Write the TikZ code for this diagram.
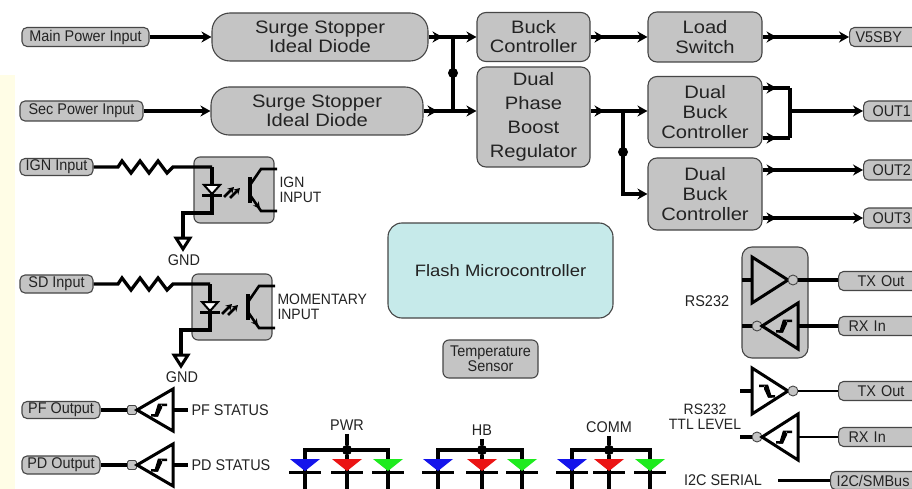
\documentclass[tikz,border=0pt]{standalone}
\usepackage{fontspec}
\setmainfont{Liberation Sans}
\newfontfamily\bigf[FakeStretch=1.12]{Liberation Sans}
\newfontfamily\smf[FakeStretch=0.93]{Liberation Sans}
\usetikzlibrary{arrows.meta,decorations.markings}
\definecolor{boxgray}{RGB}{196,196,196}
\definecolor{edge}{RGB}{70,70,70}
\definecolor{cyanbox}{RGB}{198,234,234}
\definecolor{strip}{RGB}{255,253,230}
\definecolor{txt}{RGB}{35,35,35}
\definecolor{ledblue}{RGB}{20,20,235}
\definecolor{ledred}{RGB}{235,20,20}
\definecolor{ledgreen}{RGB}{30,235,30}
\tikzset{
  bigtext/.style={font=\bigf\fontsize{18}{19}\selectfont, text=txt},
  smtext/.style={font=\smf\fontsize{15.5}{15}\selectfont, text=txt},
  lbl2/.style={font=\smf\fontsize{15}{14.5}\selectfont, text=txt},
  blk/.style={draw=edge, fill=boxgray, line width=1.1pt, rounded corners=9pt, align=center, inner sep=0pt, bigtext},
  pill/.style={draw=edge, fill=boxgray, line width=1.1pt, rounded corners=5pt, inner ysep=0pt, inner xsep=0pt, smtext},
  rpill/.style={pill, anchor=west, text width=90pt, align=left},
  tip/.tip={Stealth[length=10pt,width=11pt]},
  flow/.style={line width=3.3pt, -tip},
  flowm/.style={flow, postaction=decorate, decoration={markings, mark=at position 14pt with {\arrow{tip}}}},
  wire/.style={line width=3.3pt},
  thinwire/.style={line width=2.4pt},
  mwire/.style={wire, postaction=decorate, decoration={markings, mark=at position 14pt with {\arrow{tip}}}},
  jdot/.style={circle, fill=black, inner sep=0pt, minimum size=10pt},
  bub/.style={circle, draw=edge, fill=boxgray, line width=0.9pt, minimum size=10pt, inner sep=0pt},
  bubsq/.style={rectangle, rounded corners=1.5pt, draw=edge, fill=boxgray, line width=0.9pt, minimum size=9pt, inner sep=0pt},
  tri/.style={line width=3pt, line join=miter, fill=white},
}
\newcommand\hyst[2][1]{\begin{scope}[shift={#2}, xscale=#1]
\fill (-8,6.5) -- (-1,6.5) -- (3,-2) -- (3,-6.5) -- (8,-6.5) -- (8,-4) -- (1,-4) -- (-3,4) -- (-8,4) -- cycle;
\fill (-5,6.5) -- (-1,6.5) -- (3,-6.5) -- (-1,-6.5) -- cycle;
\end{scope}}
\newcommand\optocore[3]{\begin{scope}[shift={#2}]
\node[blk, rounded corners=6pt, minimum width=80pt, minimum height=66pt] (opto#1) at (234,190) {};
\coordinate (led#1) at (212,167);
\coordinate (gt#1) at (183,238);
\draw[wire, line join=miter] (led#1) -- (212,213) -- (183,213) -- (gt#1);
\draw[line width=3pt, fill=white, line join=miter] (gt#1) ++(-7,0) -- ++(14,0) -- ++(-7,11) -- cycle;
\node[smtext, anchor=north] (gndt#1) at (184,251) {GND};
\draw[line width=2pt, fill=white] (204,185) -- (220,185) -- (212,194) -- cycle;
\draw[line width=3pt] (202,195) -- (222,195);
\draw[line width=2.6pt, -{Stealth[length=6pt,width=7pt]}] (224,197) -- (234,187);
\draw[line width=2.6pt, -{Stealth[length=6pt,width=7pt]}] (230,198) -- (240,188);
\draw[line width=3.5pt] (250,177) -- (250,203);
\draw[line width=2.6pt] (250,185) -- (261,169) -- (277,169);
\draw[line width=2.6pt] (250,195) -- (261,211) -- (277,211);
\draw[line width=1.2pt, -{Stealth[length=7pt,width=7pt]}] (252,198) -- (260,209);
\node[lbl2, anchor=west, align=left] (optol#1) at (276,190) {#3};
\end{scope}}
\newcommand\ledsym[2]{%
\fill[#2] (#1-15,459) -- (#1+15,459) -- (#1,471) -- cycle;
\draw[line width=3.2pt] (#1-16,472.5) -- (#1+16,472.5);}
\newcommand\ledgroup[6]{%
\node[smtext] (#1) at (#5,#3) {#2};
\node[jdot] (#1d) at (#5,450) {};
\draw[wire, line join=miter] (#4,489) -- (#4,450) -- (#6,450) -- (#6,489);
\draw[wire] (#1d) -- (#5,489);
\draw[wire] (#1) -- (#1d);
\node[jdot] at (#5,450) {};
\ledsym{#4}{ledblue}\ledsym{#5}{ledred}\ledsym{#6}{ledgreen}}
\begin{document}
\begin{tikzpicture}[x=1pt,y=-1pt]
\clip (0,0) rectangle (912,489);
\fill[white] (0,0) rectangle (912,489);
\fill[strip] (0,75) rectangle (15,489);

% power path
\node[blk, rounded corners=18pt, minimum width=216pt, minimum height=48pt] (surge1) at (320,37) {Surge Stopper\\Ideal Diode};
\node[blk, rounded corners=18pt, minimum width=212pt, minimum height=48pt] (surge2) at (317,111) {Surge Stopper\\Ideal Diode};
\node[pill, minimum width=127pt, minimum height=19pt] (main) at (85.5,37) {Main Power Input};
\node[pill, minimum width=123pt, minimum height=20pt] (sec) at (81.5,111) {Sec Power Input};
\node[blk, minimum width=113pt, minimum height=49pt] (buck) at (533.5,37) {Buck\\Controller};
\node[blk, minimum width=113pt, minimum height=100pt] (boost) at (533.5,117) {Dual\\[5pt]Phase\\[5pt]Boost\\[5pt]Regulator};
\node[blk, minimum width=114pt, minimum height=50pt] (load) at (705,37) {Load\\[1pt]Switch};
\node[blk, minimum width=114pt, minimum height=71pt] (dbuck1) at (705,112) {Dual\\[1pt]Buck\\[1pt]Controller};
\node[blk, minimum width=114pt, minimum height=72pt] (dbuck2) at (705,194) {Dual\\[1pt]Buck\\[1pt]Controller};
\node[rpill, inner xsep=6pt, minimum height=19pt] (v5) at (849,37) {V5SBY};
\node[rpill, inner xsep=9pt, minimum height=20pt] (out1) at (863,111) {OUT1};
\node[rpill, inner xsep=9pt, minimum height=20pt] (out2) at (863,170) {OUT2};
\node[rpill, inner xsep=9pt, minimum height=20pt] (out3) at (863,218) {OUT3};

\draw[flow] (main) -- (surge1);
\draw[flow] (sec) -- (surge2);
\draw[flowm] (surge1) -- (buck);
\draw[flowm] (surge2) -- (surge2 -| boost.west);
\coordinate (bus1) at (453,37);
\coordinate (bus2) at (453,111);
\draw[wire] (bus1) -- (bus2);
\node[jdot] (j1) at (453,73) {};
\draw[flowm] (buck) -- (load);
\draw[flowm] (load) -- (v5.west);
\draw[flowm] (boost.east |- surge2) -- (dbuck1.west |- surge2);
\coordinate (br) at (623,111);
\draw[flow, line join=miter] (br) -- (br |- dbuck2) -- (dbuck2.west);
\node[jdot] (j2) at (623,152) {};
\coordinate (d1a) at (790,88);
\coordinate (d1b) at (790,138);
\draw[mwire] (d1a -| dbuck1.east) -- (d1a);
\draw[mwire] (d1b -| dbuck1.east) -- (d1b);
\draw[wire] (d1a) -- (d1b);
\draw[flow] (d1a |- out1) -- (out1.west);
\draw[flowm] (dbuck2.east |- out2) -- (out2.west);
\draw[flowm] (dbuck2.east |- out3) -- (out3.west);

% opto inputs
\node[pill, minimum width=73pt, minimum height=17pt] (ign) at (56.5,167) {IGN Input};
\node[pill, minimum width=73pt, minimum height=18pt] (sd) at (56.5,284) {SD Input};
\optocore{1}{(0,0)}{IGN\\INPUT}
\optocore{2}{(-2,117)}{MOMENTARY\\INPUT}
\draw[wire, line join=miter] (ign.east) -- (118,167) -- ++(4,-6) -- ++(9,12) -- ++(9,-12) -- ++(9,12) -- ++(9,-12) -- ++(9,12) -- (173,167) -- (led1);
\draw[wire, line join=miter] (sd.east) -- (118,284) -- ++(4,-6) -- ++(9,12) -- ++(9,-12) -- ++(9,12) -- ++(9,-12) -- ++(9,12) -- (173,284) -- (led2);

% micro
\node[blk, fill=cyanbox, rounded corners=14pt, minimum width=225pt, minimum height=95pt, font=\bigf\fontsize{16.5}{18}\selectfont] (mcu) at (500.5,270.5) {Flash Microcontroller};
\node[blk, rounded corners=6pt, minimum width=95pt, minimum height=38pt, smtext, font=\smf\fontsize{15.5}{14}\selectfont] (temp) at (490.5,359) {Temperature\\Sensor};

% status outputs
\node[pill, minimum width=78pt, minimum height=17pt] (pf) at (61,410) {PF Output};
\node[bubsq] (pfb) at (132,410) {};
\draw[wire] (pf) -- (pfb);
\draw[tri] (137,410) -- (173,389) -- (173,431) -- cycle;
\hyst{(159,410)}
\coordinate (pfo) at (173,410);
\node[smtext, anchor=west] (pfs) at (188,410) {PF STATUS};
\draw[wire] (pfo) -- (pfs.west);

\node[pill, minimum width=78pt, minimum height=18pt] (pd) at (61,465) {PD Output};
\node[bubsq] (pdb) at (132,465) {};
\draw[wire] (pd) -- (pdb);
\draw[tri] (137,465) -- (173,444) -- (173,486) -- cycle;
\hyst{(159,465)}
\coordinate (pdo) at (173,465);
\node[smtext, anchor=west] (pds) at (188,465) {PD STATUS};
\draw[wire] (pdo) -- (pds.west);

% LEDs
\ledgroup{pwr}{PWR}{425}{305}{347}{388}
\ledgroup{hb}{HB}{430}{438}{482}{522}
\ledgroup{comm}{COMM}{427}{572}{609}{650}

% RS232
\node[blk, rounded corners=10pt, minimum width=66pt, minimum height=111pt] (rsbox) at (775,302.5) {};
\node[smtext] (rsl) at (707,301) {RS232};
\node[rpill, inner xsep=19pt, minimum height=19pt] (tx1) at (838,281) {TX Out};
\node[rpill, inner xsep=10pt, minimum height=19pt] (rx1) at (838,326) {RX In};
\coordinate (tx1in) at (742,280);
\coordinate (tx1t) at (752,280);
\draw[wire] (tx1in) -- (tx1t);
\draw[tri, fill=boxgray] (752,257) -- (788,280) -- (752,303) -- cycle;
\node[bub] (tx1b) at (793,280) {};
\draw[wire] (tx1b) -- (tx1b -| tx1.west);
\coordinate (rx1in) at (742,326);
\node[bub] (rx1b) at (757,326) {};
\draw[wire] (rx1in) -- (rx1b);
\draw[tri, fill=boxgray] (762,326) -- (798,303) -- (798,349) -- cycle;
\hyst{(784,326)}
\coordinate (rx1o) at (798,326);
\draw[wire] (rx1o) -- (rx1.west);

% RS232 TTL
\node[lbl2, align=center] (ttll) at (705,417) {RS232\\TTL LEVEL};
\node[rpill, inner xsep=19pt, minimum height=19pt] (tx2) at (838,391) {TX Out};
\node[rpill, inner xsep=10pt, minimum height=19pt] (rx2) at (838,437) {RX In};
\coordinate (tx2in) at (740,391);
\coordinate (tx2t) at (752,391);
\draw[wire] (tx2in) -- (tx2t);
\draw[tri] (752,368) -- (788,391) -- (752,414) -- cycle;
\hyst[-1]{(767,391)}
\node[bub] (tx2b) at (793,391) {};
\draw[thinwire] (tx2b) -- (tx2b -| tx2.west);
\coordinate (rx2in) at (740,437);
\node[bub] (rx2b) at (757,437) {};
\draw[wire] (rx2in) -- (rx2b);
\draw[tri] (762,437) -- (798,414) -- (798,460) -- cycle;
\hyst{(784,437)}
\coordinate (rx2o) at (798,437);
\draw[thinwire] (rx2o) -- (rx2.west);

% I2C
\node[smtext] (i2cl) at (723,480) {I2C SERIAL};
\node[rpill, inner xsep=6pt, minimum height=18pt] (i2c) at (830,480.5) {I2C/SMBus};
\coordinate (i2cs) at (778,480.5);
\draw[wire] (i2cs) -- (i2c.west);
\end{tikzpicture}
\end{document}
